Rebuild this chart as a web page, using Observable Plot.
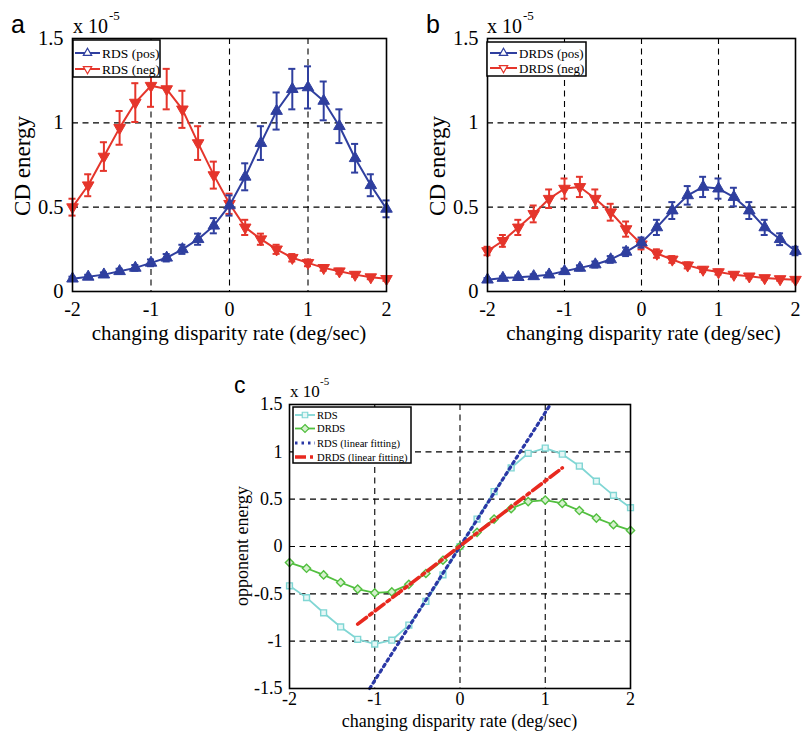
<!DOCTYPE html>
<html><head><meta charset="utf-8">
<script src="https://cdn.jsdelivr.net/npm/d3@7"></script>
<script src="https://cdn.jsdelivr.net/npm/@observablehq/plot@0.6"></script>
<style>
body{margin:0;background:#fff;}
#fig{position:relative;width:805px;height:731px;overflow:hidden;background:#fff;}
#fig svg{position:absolute;overflow:visible;}
</style></head><body><div id="fig"></div>
<script>
// ---------- data ----------
const rate = [-2,-1.8,-1.6,-1.4,-1.2,-1,-0.8,-0.6,-0.4,-0.2,0,0.2,0.4,0.6,0.8,1,1.2,1.4,1.6,1.8,2];

// panel a (x 1e-5)
const rdsPos    = [0.076,0.087,0.10,0.12,0.14,0.17,0.20,0.25,0.31,0.39,0.51,0.68,0.88,1.07,1.20,1.21,1.13,0.98,0.79,0.63,0.49];
const rdsPosErr = [0.012,0.012,0.013,0.015,0.017,0.02,0.022,0.027,0.033,0.045,0.06,0.08,0.10,0.11,0.12,0.125,0.115,0.10,0.085,0.065,0.05];
const rdsNeg    = [0.50,0.63,0.80,0.97,1.12,1.22,1.20,1.08,0.88,0.69,0.52,0.38,0.31,0.25,0.20,0.17,0.14,0.12,0.10,0.085,0.075];
const rdsNegErr = [0.05,0.065,0.085,0.10,0.115,0.125,0.12,0.11,0.10,0.08,0.06,0.045,0.033,0.027,0.022,0.02,0.017,0.015,0.013,0.012,0.012];

// panel b
const drdsPos    = [0.07,0.08,0.085,0.09,0.10,0.12,0.14,0.16,0.19,0.235,0.29,0.38,0.48,0.57,0.62,0.61,0.56,0.48,0.38,0.31,0.24];
const drdsPosErr = [0.01,0.01,0.01,0.012,0.012,0.015,0.015,0.018,0.02,0.025,0.03,0.045,0.05,0.055,0.06,0.06,0.055,0.05,0.045,0.035,0.025];
const drdsNeg    = [0.24,0.30,0.38,0.46,0.55,0.61,0.62,0.55,0.47,0.37,0.28,0.225,0.19,0.155,0.13,0.115,0.10,0.09,0.08,0.074,0.07];
const drdsNegErr = [0.025,0.035,0.045,0.05,0.055,0.06,0.06,0.055,0.05,0.045,0.03,0.025,0.02,0.018,0.015,0.015,0.012,0.012,0.01,0.01,0.01];

// panel c
const rdsOpp  = [-0.415,-0.54,-0.70,-0.85,-0.98,-1.03,-0.99,-0.83,-0.58,-0.30,0,0.29,0.58,0.83,0.985,1.04,0.975,0.85,0.69,0.54,0.41];
const drdsOpp = [-0.17,-0.23,-0.30,-0.38,-0.45,-0.49,-0.48,-0.40,-0.285,-0.145,0,0.15,0.29,0.40,0.475,0.49,0.455,0.38,0.30,0.23,0.17];
const rdsFitRate  = [-1.06, 1.06];
const rdsFitVal   = [-1.5, 1.5];
const drdsFitRate = [-1.2, 1.2];
const drdsFitVal  = [-0.82, 0.83];

const xTicks = [-2,-1,0,1,2];
const yTicksAB = [0,0.5,1,1.5];
const yTicksC = [-1.5,-1,-0.5,0,0.5,1,1.5];

// ---------- styles ----------
const BLUE = "#2f3f9f", RED = "#e5352b", CYAN = "#80d6d4", GREEN = "#52bf3f";
const FBLUE = "#2a38a6", FRED = "#e8291f";
const SERIF = "'Liberation Serif', 'Times New Roman', serif";
const SANS = "'Liberation Sans', Arial, sans-serif";

const triDown = {draw(ctx, size){
  const y = -Math.sqrt(size / (Math.sqrt(3) * 3));
  ctx.moveTo(0, -2*y); ctx.lineTo(-Math.sqrt(3)*y, y); ctx.lineTo(Math.sqrt(3)*y, y); ctx.closePath();
}};

const fig = document.getElementById("fig");
const rows = (ys, es) => rate.map((x,i) => ({x, y: ys[i], e: es ? es[i] : 0}));

function errSeries(data, color, symbol){
  return [
    Plot.ruleX(data, {x:"x", y1: d=>d.y-d.e, y2: d=>d.y+d.e, stroke: color, strokeWidth: 2}),
    Plot.ruleY(data, {y: d=>d.y+d.e, x1: d=>d.x-0.045, x2: d=>d.x+0.045, stroke: color, strokeWidth: 2}),
    Plot.ruleY(data, {y: d=>d.y-d.e, x1: d=>d.x-0.045, x2: d=>d.x+0.045, stroke: color, strokeWidth: 2}),
    Plot.line(data, {x:"x", y:"y", stroke: color, strokeWidth: 2}),
    Plot.dot(data, {x:"x", y:"y", symbol, r: 4.3, fill: color, stroke: color, strokeWidth: 1})
  ];
}

function panelAB(left, posVals, posErr, negVals, negErr){
  const p = Plot.plot({
    width: 400, height: 345,
    marginLeft: left === 0 ? 72 : 87, marginRight: left === 0 ? 14 : 5, marginTop: 38, marginBottom: 54,
    x: {domain: [-2,2]}, y: {domain: [0,1.5]},
    style: {fontFamily: SERIF, fontSize: "20px", color: "black", background: "transparent", overflow: "visible"},
    marks: [
      Plot.gridX({ticks: [-1,0,1], stroke: "black", strokeOpacity: 1, strokeWidth: 1.1, strokeDasharray: "6,4.5"}),
      Plot.gridY({ticks: [0.5,1], stroke: "black", strokeOpacity: 1, strokeWidth: 1.1, strokeDasharray: "6,4.5"}),
      Plot.axisX({ticks: xTicks, tickSize: 0, tickPadding: 10, label: null, tickFormat: d=>String(d), fontSize: 20}),
      Plot.axisY({ticks: yTicksAB, tickSize: 0, tickPadding: 9, label: null, tickFormat: d=>String(d), fontSize: 20.5}),
      ...errSeries(rows(negVals, negErr), RED, triDown),
      ...errSeries(rows(posVals, posErr), BLUE, "triangle"),
      Plot.frame({stroke: "black", strokeWidth: 1.6})
    ]
  });
  p.style.left = left + "px"; p.style.top = "0px";
  fig.appendChild(p);
}
panelAB(0, rdsPos, rdsPosErr, rdsNeg, rdsNegErr);
panelAB(400, drdsPos, drdsPosErr, drdsNeg, drdsNegErr);

// panel c
const cRds = rows(rdsOpp), cDrds = rows(drdsOpp);
const rdsFit = rdsFitRate.map((x,i)=>({x, y: rdsFitVal[i]}));
const drdsFit = drdsFitRate.map((x,i)=>({x, y: drdsFitVal[i]}));
const pc = Plot.plot({
  width: 450, height: 351,
  marginLeft: 89, marginRight: 20, marginTop: 24, marginBottom: 43,
  x: {domain: [-2,2]}, y: {domain: [-1.5,1.5]},
  style: {fontFamily: SERIF, fontSize: "18px", color: "black", background: "transparent", overflow: "visible"},
  marks: [
    Plot.gridX({ticks: [-1,0,1], stroke: "black", strokeOpacity: 1, strokeWidth: 1.1, strokeDasharray: "6,4.5"}),
    Plot.gridY({ticks: [-1,-0.5,0,0.5,1], stroke: "black", strokeOpacity: 1, strokeWidth: 1.1, strokeDasharray: "6,4.5"}),
    Plot.axisX({ticks: xTicks, tickSize: 0, tickPadding: 4, label: null, tickFormat: d=>String(d), fontSize: 18}),
    Plot.axisY({ticks: yTicksC, tickSize: 0, tickPadding: 7, label: null, tickFormat: d=>String(d), fontSize: 18}),
    Plot.line(cRds, {x:"x", y:"y", stroke: CYAN, strokeWidth: 1.8}),
    Plot.dot(cRds, {x:"x", y:"y", symbol: "square", r: 3.3, fill: "#e6f7f6", stroke: CYAN, strokeWidth: 1.4}),
    Plot.line(cDrds, {x:"x", y:"y", stroke: GREEN, strokeWidth: 1.8}),
    Plot.dot(cDrds, {x:"x", y:"y", symbol: "diamond2", r: 3.7, fill: "#d6f0cf", stroke: GREEN, strokeWidth: 1.4}),
    Plot.line(rdsFit, {x:"x", y:"y", stroke: FBLUE, strokeWidth: 3.2, strokeDasharray: "2.5,4"}),
    Plot.line(drdsFit, {x:"x", y:"y", stroke: FRED, strokeWidth: 3.6, strokeDasharray: "11,4,3,4"}),
    Plot.frame({stroke: "black", strokeWidth: 1.6})
  ]
});
pc.style.left = "200px"; pc.style.top = "380px";
fig.appendChild(pc);

// ---------- overlay: letters, exponents, axis titles, legends ----------
const ov = d3.select(fig).append("svg").attr("width", 805).attr("height", 731)
  .style("left","0px").style("top","0px").style("pointer-events","none");

function txt(x, y, s, size, fam, opts={}){
  const t = ov.append("text").attr("x", x).attr("y", y).text(s)
    .attr("font-family", fam).attr("font-size", size).attr("fill", "black");
  if (opts.anchor) t.attr("text-anchor", opts.anchor);
  if (opts.rotate) t.attr("transform", `rotate(-90 ${x} ${y})`);
  if (opts.baseline) t.attr("dominant-baseline", opts.baseline);
  return t;
}
// panel letters
txt(11, 33, "a", 25, SANS);
txt(426, 33, "b", 25, SANS);
txt(234, 393, "c", 23, SANS);
// exponents
txt(73, 33, "x 10", 20, SERIF); txt(109, 20, "-5", 13, SERIF);
txt(487, 33, "x 10", 20, SERIF); txt(523, 20, "-5", 13, SERIF);
txt(290, 397, "x 10", 17, SERIF); txt(320, 385, "-5", 11, SERIF);
// axis titles
txt(22, 166, "CD energy", 23, SERIF, {anchor: "middle", rotate: true, baseline: "central"});
txt(437, 166, "CD energy", 23, SERIF, {anchor: "middle", rotate: true, baseline: "central"});
txt(242, 546, "opponent energy", 18, SERIF, {anchor: "middle", rotate: true, baseline: "central"});
txt(229, 340, "changing disparity rate (deg/sec)", 21, SERIF, {anchor: "middle"});
txt(643.5, 340, "changing disparity rate (deg/sec)", 21, SERIF, {anchor: "middle"});
txt(459.5, 727, "changing disparity rate (deg/sec)", 18, SERIF, {anchor: "middle"});

// legends
function legend(box, items, size){
  ov.append("rect").attr("x", box[0]).attr("y", box[1]).attr("width", box[2]-box[0]).attr("height", box[3]-box[1])
    .attr("fill", "white").attr("stroke", "black").attr("stroke-width", 1.5);
  for (const it of items){
    ov.append("line").attr("x1", it.x1).attr("x2", it.x2).attr("y1", it.y).attr("y2", it.y)
      .attr("stroke", it.color).attr("stroke-width", it.sw || 2).attr("stroke-dasharray", it.dash || null);
    if (it.sym){
      ov.append("path").attr("d", d3.symbol(it.sym, it.ss)())
        .attr("transform", `translate(${(it.x1+it.x2)/2},${it.y})` + (it.rot ? " rotate(180)" : ""))
        .attr("fill", it.fill || "white").attr("stroke", it.color).attr("stroke-width", 1.2);
    }
    txt(it.x2 + 2, it.y, it.label, size, SERIF, {baseline: "central"});
  }
}
legend([73,40,160,77], [
  {x1:75, x2:100, y:53, color: BLUE, sym: d3.symbolTriangle, ss: 30, label: "RDS (pos)"},
  {x1:75, x2:100, y:69, color: RED, sym: d3.symbolTriangle, ss: 30, rot: true, label: "RDS (neg)"}
], 13.5);
legend([487,42,586,76], [
  {x1:490, x2:517, y:53, color: BLUE, sym: d3.symbolTriangle, ss: 30, label: "DRDS (pos)"},
  {x1:490, x2:517, y:68, color: RED, sym: d3.symbolTriangle, ss: 30, rot: true, label: "DRDS (neg)"}
], 13);
legend([293,407,411,463], [
  {x1:295, x2:315, y:415, color: CYAN, sw: 1.8, sym: d3.symbolSquare, ss: 30, fill: "#e6f7f6", label: "RDS"},
  {x1:295, x2:315, y:428.5, color: GREEN, sw: 1.8, sym: d3.symbolDiamond2 || d3.symbolSquare2, ss: 40, fill: "#d6f0cf", label: "DRDS"},
  {x1:295, x2:315, y:443, color: FBLUE, sw: 3.2, dash: "2.5,4", label: "RDS (linear fitting)"},
  {x1:295, x2:315, y:457, color: FRED, sw: 3.6, dash: "11,4,3,4", label: "DRDS (linear fitting)"}
], 10.6);
</script></body></html>
